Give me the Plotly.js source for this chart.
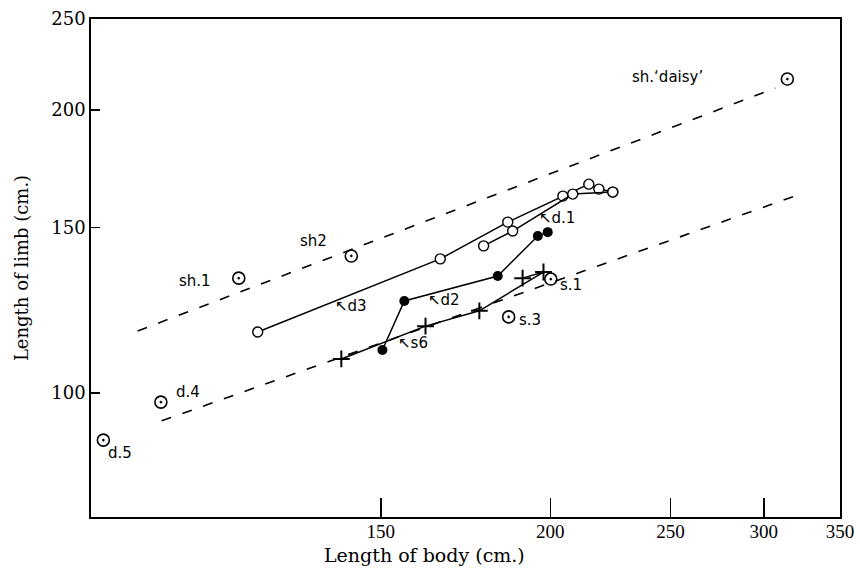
<!DOCTYPE html>
<html>
<head>
<meta charset="utf-8">
<script src="https://cdn.plot.ly/plotly-3.0.1.min.js"></script>
<style>html,body{margin:0;padding:0;background:#fff;}#chart{width:860px;height:571px;}</style>
</head>
<body>
<div id="chart"></div>
<script>
// ---- Data (body length cm, limb length cm) ----
// The printed body-length scale is logarithmic in (length - 50 cm); labels show the real length.
const X_OFFSET = 50;

const xTickLabels = [150, 200, 250, 300, 350];
const yTickLabels = [100, 150, 200, 250];

// open circles, first animal
const openA_body = [124.5, 165.3, 185.5, 204.6, 214.5, 218.5, 224.2];
const openA_limb = [116.1, 138.9, 152.0, 162.0, 166.8, 164.8, 163.6];
// open circles, second animal (d.1)
const openB_body = [177.9, 187.1, 208.3, 224.2];
const openB_limb = [143.4, 148.7, 162.8, 163.6];
// filled circles (d2)
const filled_body = [150.4, 155.8, 182.3, 195.6, 199.1];
const filled_limb = [111.1, 125.3, 133.2, 146.9, 148.3];
// crosses (s6)
const cross_body = [141.0, 161.3, 176.6, 197.6, 190.4];
const cross_limb = [108.7, 117.8, 122.3, 134.5, 132.5];
// single specimens (dotted circles)
const single_names = ["sh.1", "sh2", "sh.‘daisy’", "d.4", "d.5", "s.1", "s.3"];
const single_body = [121.2, 143.2, 314.5, 109.1, 101.5, 200.2, 185.8];
const single_limb = [132.5, 139.9, 215.8, 97.8, 89.1, 132.2, 120.5];
// dashed guide lines (end points)
const upperDash_body = [105.9, 307.0];
const upperDash_limb = [116.4, 211.1];
const lowerDash_body = [109.2, 324.8];
const lowerDash_limb = [93.4, 163.2];

// ---- Plot ----
const W = 860, H = 571;
const M = {l: 91, r: 20, t: 19, b: 54};
const PW = W - M.l - M.r, PH = H - M.t - M.b;
const sx = arr => arr.map(v => v - X_OFFSET);

const lineStyle = {color: '#000', width: 1.5};
const traces = [
  {x: sx(upperDash_body), y: upperDash_limb, mode: 'lines',
   line: {color: '#000', width: 1.6, dash: '10px,12px'}, hoverinfo: 'skip', name: 'upper'},
  {x: sx(lowerDash_body), y: lowerDash_limb, mode: 'lines',
   line: {color: '#000', width: 1.6, dash: '10px,12px'}, hoverinfo: 'skip', name: 'lower'},
  {x: sx(openA_body), y: openA_limb, mode: 'lines+markers', line: lineStyle,
   marker: {symbol: 'circle', size: 10, color: '#fff', line: {color: '#000', width: 1.4}}, name: 'd3'},
  {x: sx(openB_body), y: openB_limb, mode: 'lines+markers', line: lineStyle,
   marker: {symbol: 'circle', size: 10, color: '#fff', line: {color: '#000', width: 1.4}}, name: 'd.1'},
  {x: sx(filled_body), y: filled_limb, mode: 'lines+markers', line: lineStyle,
   marker: {symbol: 'circle', size: 10, color: '#000'}, name: 'd2'},
  {x: sx(cross_body), y: cross_limb, mode: 'lines+markers', line: lineStyle,
   marker: {symbol: 'cross-thin-open', size: 12, color: '#000', line: {color: '#000', width: 2}}, name: 's6'},
  {x: sx(single_body), y: single_limb, mode: 'markers', text: single_names,
   marker: {symbol: 'circle-open-dot', size: 12, color: '#000', line: {color: '#000', width: 1.6}}, name: 'single'}
];

// text labels, positioned in pixels of the page
const labelFont = {family: 'DejaVu Sans', size: 15, color: '#000'};
const labels = [
  ["sh.1", 195, 281], ["sh2", 313, 241], ["sh.‘daisy’", 667, 77],
  ["d.4", 188, 392], ["d.5", 120, 453], ["s.1", 571, 285], ["s.3", 530, 320],
  ["↖d3", 351, 306], ["↖d2", 444, 300], ["↖s6", 413, 343], ["↖d.1", 557, 218]
];
const px = x => (x - M.l) / PW;
const py = y => (H - M.b - y) / PH;
const annotations = labels.map(([t, x, y]) => ({
  text: t, xref: 'paper', yref: 'paper', x: px(x), y: py(y),
  xanchor: 'center', yanchor: 'middle', showarrow: false, font: labelFont
}));
annotations.push({
  text: 'Length of body (cm.)', xref: 'paper', yref: 'paper', x: px(424), y: py(555),
  xanchor: 'center', yanchor: 'middle', showarrow: false,
  font: {family: 'DejaVu Serif', size: 19, color: '#000'}
});

const layout = {
  width: W, height: H, margin: M, showlegend: false,
  paper_bgcolor: '#fff', plot_bgcolor: '#fff',
  xaxis: {
    type: 'log', range: [Math.log10(100 - X_OFFSET), Math.log10(350 - X_OFFSET)],
    tickmode: 'array', tickvals: sx(xTickLabels), ticktext: xTickLabels.map(String),
    ticks: 'inside', ticklen: 19, tickwidth: 1.5, tickcolor: '#000',
    ticklabelstandoff: -4,
    showline: true, mirror: true, linecolor: '#000', linewidth: 1.8,
    showgrid: false, zeroline: false,
    tickfont: {family: 'Liberation Serif', size: 19, color: '#000'}
  },
  yaxis: {
    type: 'log', range: [Math.log10(73.8), Math.log10(250)],
    tickmode: 'array', tickvals: yTickLabels, ticktext: yTickLabels.map(String),
    ticks: 'inside', ticklen: 9, tickwidth: 1.5, tickcolor: '#000',
    showline: true, mirror: true, linecolor: '#000', linewidth: 1.8,
    showgrid: false, zeroline: false,
    tickfont: {family: 'DejaVu Serif', size: 18, color: '#000'},
    title: {text: 'Length of limb (cm.)', standoff: 18,
            font: {family: 'DejaVu Serif', size: 18, color: '#000'}}
  },
  annotations: annotations
};

Plotly.newPlot('chart', traces, layout, {displayModeBar: false, staticPlot: true});
</script>
</body>
</html>
